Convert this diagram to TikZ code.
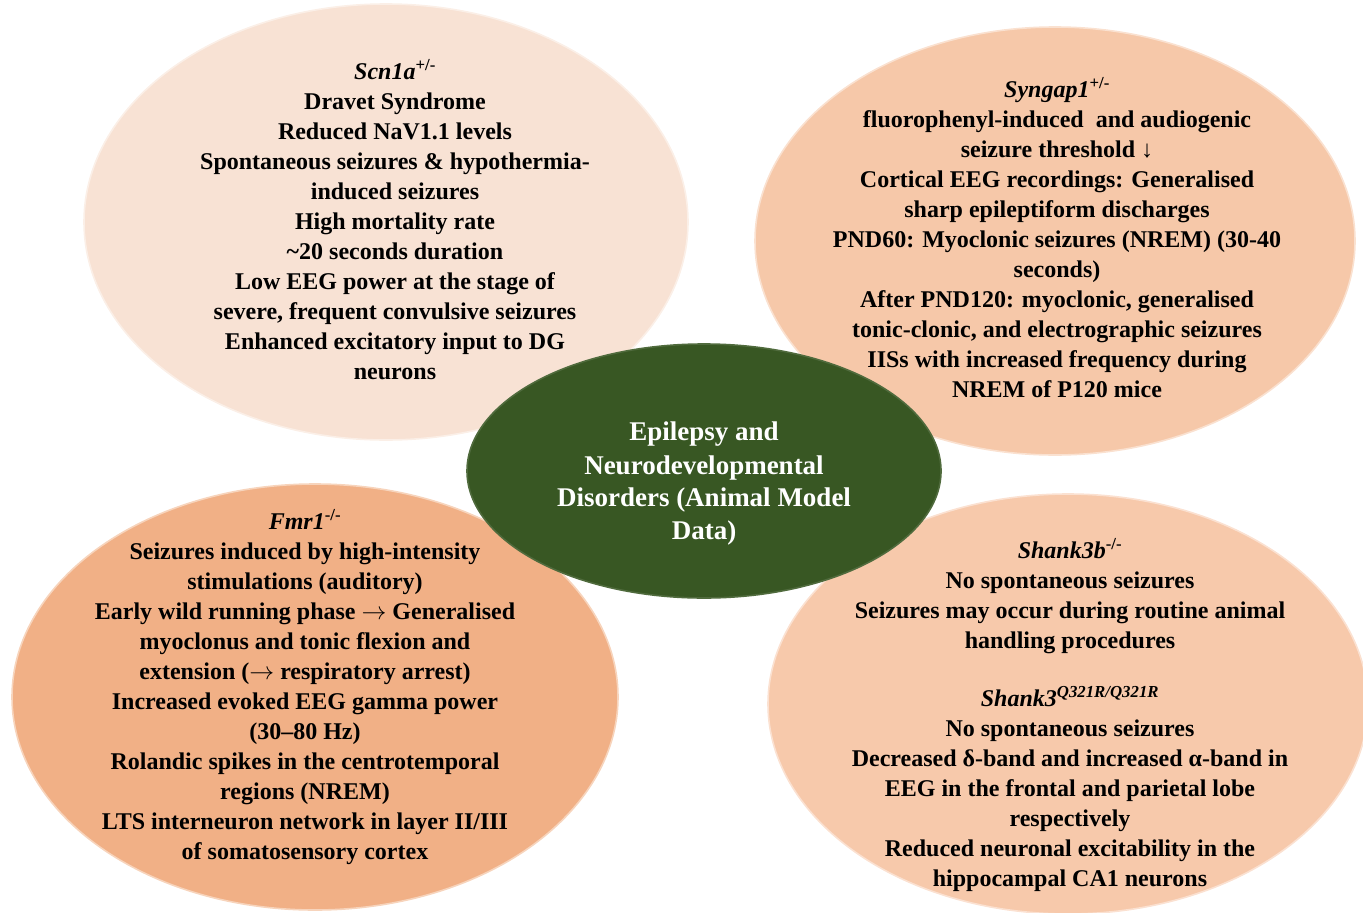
\documentclass[tikz,border=0pt]{standalone}
\usepackage{fontspec}
\setmainfont{Liberation Serif}
\usepackage{xcolor}
\usepackage{tikz}
\usetikzlibrary{shapes.geometric}
\definecolor{scnfill}{HTML}{F8E2D4}
\definecolor{synfill}{HTML}{F6C8A9}
\definecolor{fmrfill}{HTML}{F1B086}
\definecolor{shankfill}{HTML}{F7C9AB}
\definecolor{hub}{HTML}{385723}

\tikzset{
  bubble/.style={ellipse, inner sep=0pt, line width=1.6pt},
  info/.style={align=center, font=\fontsize{24}{30}\selectfont\bfseries, text=black},
}

\begin{document}
\begin{tikzpicture}[x=1pt,y=-1pt]
\useasboundingbox (0,0) rectangle (1363,913);
% outer bubbles
\node[bubble, fill=scnfill, draw=scnfill!55!white, minimum width=604pt, minimum height=436pt] (scn) at (386,222) {};
\node[bubble, fill=synfill, draw=synfill!55!white, minimum width=600pt, minimum height=428pt] (syn) at (1055,241) {};
\node[bubble, fill=fmrfill, draw=fmrfill!55!white, minimum width=606pt, minimum height=426pt] (fmr) at (315,697) {};
\node[bubble, fill=shankfill, draw=shankfill!55!white, minimum width=600pt, minimum height=420pt] (shank) at (1068,704) {};
% texts
\node[info] (scntext) at (395,220) {\textit{Scn1a}\textsuperscript{+/-}\\
Dravet Syndrome\\
Reduced NaV1.1 levels\\
Spontaneous seizures \& hypothermia-\\
induced seizures\\
High mortality rate\\
\textasciitilde20 seconds duration\\
Low EEG power at the stage of\\
severe, frequent convulsive seizures\\
Enhanced excitatory input to DG\\
neurons};
\node[info] (syntext) at (1057,238) {\textit{Syngap1}\textsuperscript{+/-}\\
fluorophenyl-induced\ \ and audiogenic\\
seizure threshold ↓\\
Cortical EEG recordings: Generalised\\
sharp epileptiform discharges\\
PND60: Myoclonic seizures (NREM) (30-40\\
seconds)\\
After PND120: myoclonic, generalised\\
tonic-clonic, and electrographic seizures\\
IISs with increased frequency during\\
NREM of P120 mice};
\node[info] (fmrtext) at (305,687) {\textit{Fmr1}\textsuperscript{-/-}\\
Seizures induced by high-intensity\\
stimulations (auditory)\\
Early wild running phase $\rightarrow$ Generalised\\
myoclonus and tonic flexion and\\
extension ($\rightarrow$ respiratory arrest)\\
Increased evoked EEG gamma power\\
(30–80 Hz)\\
Rolandic spikes in the centrotemporal\\
regions (NREM)\\
LTS interneuron network in layer II/III\\
of somatosensory cortex};
\node[info] (shanktext) at (1070,715) {\textit{Shank3b}\textsuperscript{-/-}\\
No spontaneous seizures\\
Seizures may occur during routine animal\\
handling procedures\\[28pt]
\textit{Shank3}\textsuperscript{\itshape Q321R/Q321R}\\
No spontaneous seizures\\
Decreased δ-band and increased α-band in\\
EEG in the frontal and parietal lobe\\
respectively\\
Reduced neuronal excitability in the\\
hippocampal CA1 neurons};
% hub
\node[bubble, fill=hub, draw=hub!88!white, minimum width=474pt, minimum height=254pt] (hubnode) at (704,471) {};
\node[align=center, font=\fontsize{27}{33}\selectfont\bfseries, text=white] (hubtext) at (704,484) {Epilepsy and\\
Neurodevelopmental\\
Disorders (Animal Model\\
Data)};
\end{tikzpicture}
\end{document}
